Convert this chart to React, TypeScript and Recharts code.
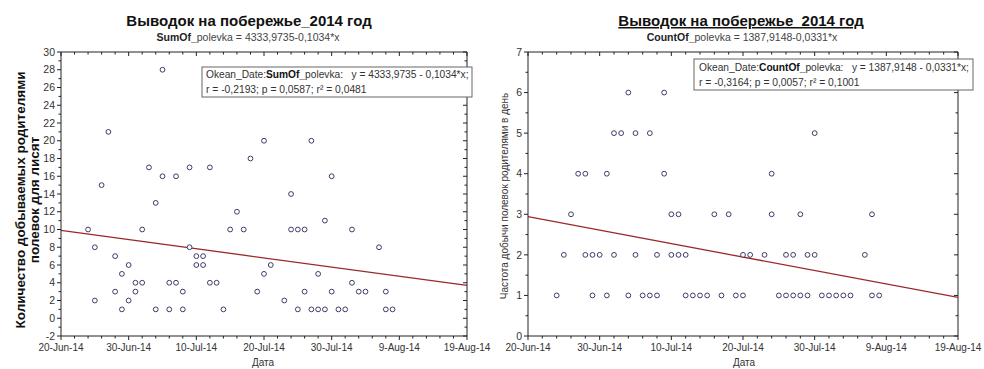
import React from "react";
import { ScatterChart, Scatter, XAxis, YAxis, ReferenceLine } from "recharts";

// x values are days since 20-Jun-14
const xMajorTicks = [0, 10, 20, 30, 40, 50, 60];
const xTickLabels = ["20-Jun-14", "30-Jun-14", "10-Jul-14", "20-Jul-14", "30-Jul-14", "9-Aug-14", "19-Aug-14"];

const sumPoints = [
  { d: 4, v: 10 }, { d: 5, v: 8 }, { d: 5, v: 2 }, { d: 6, v: 15 }, { d: 7, v: 21 },
  { d: 8, v: 7 }, { d: 8, v: 3 }, { d: 9, v: 5 }, { d: 9, v: 1 }, { d: 10, v: 6 },
  { d: 10, v: 2 }, { d: 11, v: 4 }, { d: 11, v: 3 }, { d: 12, v: 10 }, { d: 12, v: 4 },
  { d: 13, v: 17 }, { d: 14, v: 13 }, { d: 14, v: 1 }, { d: 15, v: 28 }, { d: 15, v: 16 },
  { d: 16, v: 4 }, { d: 16, v: 1 }, { d: 17, v: 16 }, { d: 17, v: 4 }, { d: 18, v: 3 },
  { d: 18, v: 1 }, { d: 19, v: 17 }, { d: 19, v: 8 }, { d: 20, v: 7 }, { d: 20, v: 6 },
  { d: 21, v: 7 }, { d: 21, v: 6 }, { d: 22, v: 17 }, { d: 22, v: 4 }, { d: 23, v: 4 },
  { d: 24, v: 1 }, { d: 25, v: 10 }, { d: 26, v: 12 }, { d: 27, v: 10 }, { d: 28, v: 18 },
  { d: 29, v: 3 }, { d: 30, v: 20 }, { d: 30, v: 5 }, { d: 31, v: 6 }, { d: 33, v: 2 },
  { d: 34, v: 14 }, { d: 34, v: 10 }, { d: 35, v: 10 }, { d: 35, v: 1 }, { d: 36, v: 10 },
  { d: 36, v: 3 }, { d: 37, v: 20 }, { d: 37, v: 1 }, { d: 38, v: 5 }, { d: 38, v: 1 },
  { d: 39, v: 11 }, { d: 39, v: 1 }, { d: 40, v: 16 }, { d: 40, v: 3 }, { d: 41, v: 1 },
  { d: 42, v: 1 }, { d: 43, v: 10 }, { d: 43, v: 4 }, { d: 44, v: 3 }, { d: 45, v: 3 },
  { d: 47, v: 8 }, { d: 48, v: 3 }, { d: 48, v: 1 }, { d: 49, v: 1 },
];

const countPoints = [
  { d: 14, v: 6 }, { d: 19, v: 6 },
  { d: 12, v: 5 }, { d: 13, v: 5 }, { d: 15, v: 5 }, { d: 17, v: 5 }, { d: 40, v: 5 },
  { d: 7, v: 4 }, { d: 8, v: 4 }, { d: 11, v: 4 }, { d: 19, v: 4 }, { d: 34, v: 4 },
  { d: 6, v: 3 }, { d: 20, v: 3 }, { d: 21, v: 3 }, { d: 26, v: 3 }, { d: 28, v: 3 },
  { d: 34, v: 3 }, { d: 38, v: 3 }, { d: 48, v: 3 },
  { d: 5, v: 2 }, { d: 8, v: 2 }, { d: 9, v: 2 }, { d: 10, v: 2 }, { d: 12, v: 2 },
  { d: 15, v: 2 }, { d: 18, v: 2 }, { d: 20, v: 2 }, { d: 21, v: 2 }, { d: 22, v: 2 },
  { d: 30, v: 2 }, { d: 31, v: 2 }, { d: 33, v: 2 }, { d: 36, v: 2 }, { d: 37, v: 2 },
  { d: 39, v: 2 }, { d: 40, v: 2 }, { d: 47, v: 2 },
  { d: 4, v: 1 }, { d: 9, v: 1 }, { d: 11, v: 1 }, { d: 14, v: 1 }, { d: 16, v: 1 },
  { d: 17, v: 1 }, { d: 18, v: 1 }, { d: 22, v: 1 }, { d: 23, v: 1 }, { d: 24, v: 1 },
  { d: 25, v: 1 }, { d: 27, v: 1 }, { d: 29, v: 1 }, { d: 30, v: 1 }, { d: 35, v: 1 },
  { d: 36, v: 1 }, { d: 37, v: 1 }, { d: 38, v: 1 }, { d: 39, v: 1 }, { d: 41, v: 1 },
  { d: 42, v: 1 }, { d: 43, v: 1 }, { d: 44, v: 1 }, { d: 45, v: 1 }, { d: 48, v: 1 },
  { d: 49, v: 1 },
];

// fitted regression lines, end points
const sumFit = [{ x: 0, y: 9.9 }, { x: 60, y: 3.7 }];
const countFit = [{ x: 0, y: 2.94 }, { x: 60, y: 0.95 }];

const FONT = "'Liberation Sans', Arial, sans-serif";
const AXIS = "#222";
const TXT = "#333";
const TOP = 52;
const H = 369;
const W = 492;

const minorX: number[] = [];
for (let i = 0; i <= 60; i += 2) minorX.push(i);

function makeXTick(top: number) {
  return function XTick(props: any) {
    const { x, y, payload } = props;
    const idx = xMajorTicks.indexOf(payload.value);
    const len = idx >= 0 ? 4 : 2.5;
    return (
      <g>
        <line x1={x} x2={x} y1={y} y2={y + len} stroke={AXIS} />
        <line x1={x} x2={x} y1={top} y2={top + len} stroke={AXIS} />
        {idx >= 0 && (
          <text x={x} y={y + 15} textAnchor="middle" fontSize={10} fontFamily={FONT} fill={TXT}>
            {xTickLabels[idx]}
          </text>
        )}
      </g>
    );
  };
}

function makeYTick(right: number, step: number) {
  return function YTick(props: any) {
    const { x, y, payload } = props;
    const major = Math.abs(payload.value % step) < 1e-6;
    const len = major ? 4 : 2.5;
    return (
      <g>
        <line x1={x} x2={x - len} y1={y} y2={y} stroke={AXIS} />
        <line x1={right} x2={right - len} y1={y} y2={y} stroke={AXIS} />
        {major && (
          <text x={x - 6} y={y} dy="0.35em" textAnchor="end" fontSize={10.5} fontFamily={FONT} fill={TXT}>
            {payload.value}
          </text>
        )}
      </g>
    );
  };
}

const dot = (p: any) => (
  <circle cx={p.cx} cy={p.cy} r={2.4} fill="#fff" stroke="#3c3c68" strokeWidth={1} />
);

function Panel({
  points, fit, yDomain, yTicks, yStep, yAxisWidth, right,
}: {
  points: { d: number; v: number }[];
  fit: { x: number; y: number }[];
  yDomain: [number, number];
  yTicks: number[];
  yStep: number;
  yAxisWidth: number;
  right: number;
}) {
  const plotRight = W - right;
  return (
    <ScatterChart width={W} height={H} margin={{ top: TOP, right, bottom: 0, left: 0 }}>
      <XAxis
        type="number"
        dataKey="d"
        domain={[0, 60]}
        ticks={minorX}
        interval={0}
        height={33}
        tickSize={0}
        tickMargin={0}
        tickLine={false}
        axisLine={{ stroke: AXIS }}
        tick={makeXTick(TOP)}
      />
      <YAxis
        type="number"
        dataKey="v"
        domain={yDomain}
        ticks={yTicks}
        interval={0}
        width={yAxisWidth}
        tickSize={0}
        tickMargin={0}
        tickLine={false}
        axisLine={{ stroke: AXIS }}
        tick={makeYTick(plotRight, yStep)}
      />
      <ReferenceLine y={yDomain[1]} stroke={AXIS} />
      <ReferenceLine x={60} stroke={AXIS} />
      <ReferenceLine segment={fit} stroke="#9a2a2a" strokeWidth={1.3} />
      <Scatter data={points} shape={dot} isAnimationActive={false} />
    </ScatterChart>
  );
}

const leftYTicks: number[] = [];
for (let i = -2; i <= 30; i += 1) leftYTicks.push(i);
const rightYTicks: number[] = [];
for (let i = 0; i <= 7; i += 0.5) rightYTicks.push(i);

export default function App() {
  return (
    <div style={{ position: "absolute", left: 0, top: 0, width: 984, height: H, background: "#fff", overflow: "hidden" }}>
      <div style={{ position: "absolute", left: 0, top: 0 }}>
        <Panel points={sumPoints} fit={sumFit} yDomain={[-2, 30]} yTicks={leftYTicks} yStep={2} yAxisWidth={61} right={25} />
      </div>
      <div style={{ position: "absolute", left: W, top: 0 }}>
        <Panel points={countPoints} fit={countFit} yDomain={[0, 7]} yTicks={rightYTicks} yStep={1} yAxisWidth={36} right={26} />
      </div>
      <svg width={984} height={H} style={{ position: "absolute", left: 0, top: 0, pointerEvents: "none" }} fontFamily={FONT}>
        {/* titles */}
        <text x={249} y={26} textAnchor="middle" fontSize={15} fontWeight="bold" fill="#111">
          Выводок на побережье_2014 год
        </text>
        <text x={248} y={41} textAnchor="middle" fontSize={10.5} fill="#444">
          <tspan fontWeight="bold" fill="#222">SumOf_</tspan>polevka = 4333,9735-0,1034*x
        </text>
        <text x={741} y={26} textAnchor="middle" fontSize={15} fontWeight="bold" fill="#111" textDecoration="underline">
          Выводок на побережье_2014 год
        </text>
        <text x={742} y={41} textAnchor="middle" fontSize={10.5} fill="#444">
          <tspan fontWeight="bold" fill="#222">CountOf_</tspan>polevka = 1387,9148-0,0331*x
        </text>

        {/* regression boxes */}
        <rect x={202} y={67} width={270} height={30} fill="#fff" stroke="#666" />
        <text x={206} y={78} fontSize={10.2} fill={TXT}>
          Okean_Date:<tspan fontWeight="bold" fill="#111">SumOf_</tspan>polevka:{"\u00a0\u00a0\u00a0"}y = 4333,9735 - 0,1034*x;
        </text>
        <text x={206} y={93} fontSize={10.3} fill={TXT}>
          r = -0,2193; p = 0,0587; r² = 0,0481
        </text>
        <rect x={694} y={59} width={279} height={31} fill="#fff" stroke="#666" />
        <text x={699} y={71} fontSize={10.2} fill={TXT}>
          Okean_Date:<tspan fontWeight="bold" fill="#111">CountOf_</tspan>polevka:{"\u00a0\u00a0\u00a0"}y = 1387,9148 - 0,0331*x;
        </text>
        <text x={699} y={86} fontSize={10.3} fill={TXT}>
          r = -0,3164; p = 0,0057; r² = 0,1001
        </text>

        {/* axis titles */}
        <text transform="translate(20,200) rotate(-90)" textAnchor="middle" dy="0.35em" fontSize={13.5} fontWeight="bold" fill="#111">
          Количество добываемых родителями
        </text>
        <text transform="translate(34,200) rotate(-90)" textAnchor="middle" dy="0.35em" fontSize={13.5} fontWeight="bold" fill="#111">
          полевок для лисят
        </text>
        <text transform="translate(504,196) rotate(-90)" textAnchor="middle" dy="0.35em" fontSize={10} fill={TXT}>
          Частота добычи полевок родителями в день
        </text>
        <text x={263} y={366} textAnchor="middle" fontSize={10} fill={TXT}>Дата</text>
        <text x={744} y={366} textAnchor="middle" fontSize={10} fill={TXT}>Дата</text>
      </svg>
    </div>
  );
}
